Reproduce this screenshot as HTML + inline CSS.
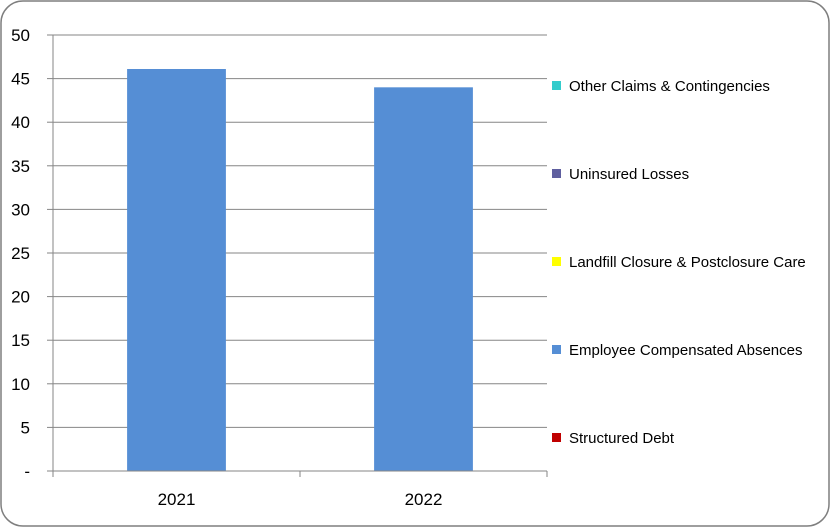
<!DOCTYPE html>
<html><head><meta charset="utf-8"><style>
body{margin:0;background:#fff;}
svg{display:block;font-family:"Liberation Sans",Arial,sans-serif;}
</style></head><body>
<svg id="chart" width="830" height="527">
<rect x="1" y="1" width="828" height="525" rx="22" fill="#fff" stroke="#7f7f7f" stroke-width="1.5"/>
<g id="grid"></g>
<g id="bars"></g>
<g id="axes"></g>
<g id="legend"></g>
</svg>
<script>
const categories=["2021","2022"];
const values=[46.1,44.0];
const yTicks=[0,5,10,15,20,25,30,35,40,45,50];
const yTickLabels=["-","5","10","15","20","25","30","35","40","45","50"];
const legendNames=["Other Claims & Contingencies","Uninsured Losses","Landfill Closure & Postclosure Care","Employee Compensated Absences","Structured Debt"];
const legendColors=["#33cccc","#5f5f9f","#ffff00","#558ed5","#c00000"];
const NS="http://www.w3.org/2000/svg";
const X0=53,X1=547,Y0=471,Y1=35,YMAX=50;
const y=v=>Y0-(v/YMAX)*(Y0-Y1);
const band=(X1-X0)/categories.length;
const x=i=>X0+band*i;
function mk(t,a,p){const e=document.createElementNS(NS,t);for(const k in a)e.setAttribute(k,a[k]);p.appendChild(e);return e;}
const grid=document.getElementById('grid'),bars=document.getElementById('bars'),axes=document.getElementById('axes'),legend=document.getElementById('legend');
yTicks.forEach((v,i)=>{
 if(v>0){const l=mk('line',{x1:X0,x2:X1,y1:y(v),y2:y(v),stroke:'#868686','stroke-width':1},grid);
 
 }
 const tk=mk('line',{x1:X0-6,x2:X0,y1:y(v),y2:y(v),stroke:'#868686'},axes);
 
 
 const t=mk('text',{x:30,y:y(v)+6,'text-anchor':'end','font-size':17,fill:'#000'},axes);
 t.textContent=yTickLabels[i];
 
 
});
categories.forEach((c,i)=>{
 const bw=band*0.4,bx=x(i)+(band-bw)/2;
 const r=mk('rect',{x:bx,y:y(values[i]),width:bw,height:Y0-y(values[i]),fill:'#558ed5'},bars);
 
 
 const t=mk('text',{x:x(i)+band/2,y:505,'text-anchor':'middle','font-size':17,fill:'#000'},axes);
 t.textContent=c;
 
 
});
for(let i=0;i<=categories.length;i++){
 const tk=mk('line',{x1:x(i),x2:x(i),y1:Y0,y2:Y0+6,stroke:'#868686'},axes);
 
 
}
const ya=mk('line',{x1:X0,x2:X0,y1:Y1,y2:Y0,stroke:'#868686'},axes);


const xa=mk('line',{x1:X0,x2:X1,y1:Y0,y2:Y0,stroke:'#868686'},axes);


legendNames.forEach((n,i)=>{
 const ly=86+i*88;
 const g=mk('g',{},legend);
 
 
 mk('rect',{x:552,y:ly-5,width:9,height:9,fill:legendColors[i]},g);
 const t=mk('text',{x:569,y:ly+5,'font-size':15,fill:'#000'},g);
 t.textContent=n;
});
</script>
</body></html>
